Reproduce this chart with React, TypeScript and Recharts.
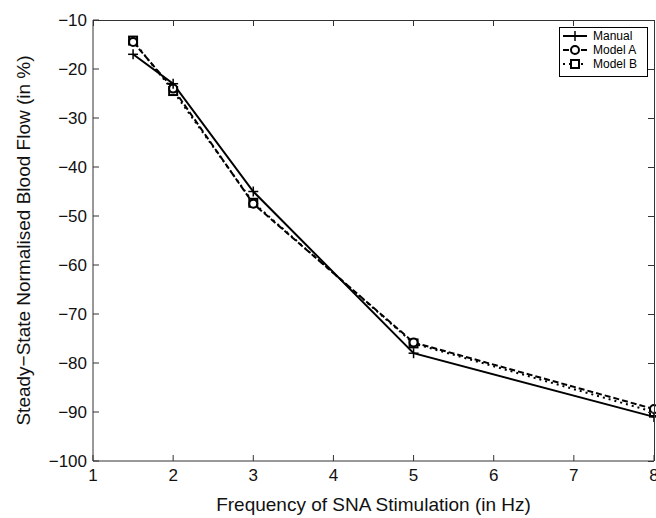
import React from 'react';
import { LineChart, Line, XAxis, YAxis } from 'recharts';

const frequencies = [1.5, 2, 3, 5, 8];
const manual = [-17, -23, -45, -78, -91];
const modelA = [-14.5, -24, -47.5, -75.8, -89.4];
const modelB = [-14.2, -24.5, -47.3, -76, -90];
const xTicks = [1, 2, 3, 4, 5, 6, 7, 8];
const yTicks = [-100, -90, -80, -70, -60, -50, -40, -30, -20, -10];

const data = frequencies.map((f, i) => ({
  f,
  manual: manual[i],
  modelA: modelA[i],
  modelB: modelB[i],
}));

const X_DOMAIN: [number, number] = [1, 8];
const Y_DOMAIN: [number, number] = [-100, -10];

// layout of the plot box
const CHART_W = 680;
const CHART_H = 518;
const Y_AXIS_W = 93;
const X_AXIS_H = 57;
const TOP = 20;
const RIGHT = 26;
const PLOT_L = Y_AXIS_W;
const PLOT_R = CHART_W - RIGHT;
const PLOT_T = TOP;
const PLOT_B = CHART_H - X_AXIS_H;
const TICK = 6;

const FONT = 'Liberation Sans, Arial, Helvetica, sans-serif';
const AXIS = '#333';
const fmt = (v: number) => (v < 0 ? '\u2212' + Math.abs(v) : String(v));

const sx = (v: number) => PLOT_L + ((v - X_DOMAIN[0]) / (X_DOMAIN[1] - X_DOMAIN[0])) * (PLOT_R - PLOT_L);
const sy = (v: number) => PLOT_B - ((v - Y_DOMAIN[0]) / (Y_DOMAIN[1] - Y_DOMAIN[0])) * (PLOT_B - PLOT_T);

const PlusDot = (p: any) => {
  const { cx, cy } = p;
  if (cx == null || cy == null) return <g />;
  return (
    <g stroke="#000" strokeWidth={1.5}>
      <line x1={cx - 5} y1={cy} x2={cx + 5} y2={cy} />
      <line x1={cx} y1={cy - 5} x2={cx} y2={cy + 5} />
    </g>
  );
};

const CircleDot = (p: any) => {
  const { cx, cy } = p;
  if (cx == null || cy == null) return <g />;
  return <circle cx={cx} cy={cy} r={4} fill="#fff" stroke="#000" strokeWidth={2} />;
};

const SquareDot = (p: any) => {
  const { cx, cy } = p;
  if (cx == null || cy == null) return <g />;
  return <rect x={cx - 4} y={cy - 4} width={8} height={8} fill="#fff" stroke="#000" strokeWidth={2} />;
};

const legendItems = [
  { name: 'Manual', dash: undefined, marker: 'plus' },
  { name: 'Model A', dash: '6 3', marker: 'circle' },
  { name: 'Model B', dash: '2 4', marker: 'square' },
];

const LegendBox = () => (
  <svg width={90} height={51} style={{ display: 'block' }}>
    <rect x={0.5} y={0.5} width={88} height={49} fill="#fff" stroke="#000" strokeWidth={1} />
    {legendItems.map((it, i) => {
      const y = 9 + i * 14;
      const cx = 16;
      return (
        <g key={it.name}>
          <line x1={4} y1={y} x2={28} y2={y} stroke="#000" strokeWidth={2} strokeDasharray={it.dash} />
          {it.marker === 'plus' && <PlusDot cx={cx} cy={y} />}
          {it.marker === 'circle' && <CircleDot cx={cx} cy={y} />}
          {it.marker === 'square' && <SquareDot cx={cx} cy={y} />}
          <text x={34} y={y + 4} fontSize={12} fontFamily={FONT} fill="#000">
            {it.name}
          </text>
        </g>
      );
    })}
  </svg>
);

// top and right edges of the MATLAB-style box, with inward ticks
const BoxEdges = () => (
  <svg
    width={CHART_W}
    height={CHART_H}
    style={{ position: 'absolute', left: 0, top: 0, pointerEvents: 'none' }}
  >
    <g stroke={AXIS} strokeWidth={1} shapeRendering="crispEdges">
      <line x1={PLOT_L} y1={PLOT_T} x2={PLOT_R} y2={PLOT_T} />
      <line x1={PLOT_R} y1={PLOT_T} x2={PLOT_R} y2={PLOT_B} />
      {xTicks.map((t) => (
        <line key={'x' + t} x1={sx(t)} y1={PLOT_T} x2={sx(t)} y2={PLOT_T + TICK} />
      ))}
      {yTicks.map((t) => (
        <line key={'y' + t} x1={PLOT_R} y1={sy(t)} x2={PLOT_R - TICK} y2={sy(t)} />
      ))}
    </g>
  </svg>
);

const YLabel = (props: any) => {
  const vb = props.viewBox || {};
  const x = vb.x + 30;
  const y = vb.y + vb.height / 2;
  return (
    <text
      x={x}
      y={y}
      transform={`rotate(-90, ${x}, ${y})`}
      textAnchor="middle"
      fontSize={19}
      fontFamily={FONT}
      fill="#111"
    >
      Steady−State Normalised Blood Flow (in %)
    </text>
  );
};

const XLabel = (props: any) => {
  const vb = props.viewBox || {};
  const x = vb.x + vb.width / 2;
  return (
    <text x={x} y={511} textAnchor="middle" fontSize={19} fontFamily={FONT} fill="#111">
      Frequency of SNA Stimulation (in Hz)
    </text>
  );
};

const tickStyle = { fontSize: 17, fontFamily: FONT, fill: '#111' };

export default function App() {
  return (
    <div style={{ position: 'absolute', left: 0, top: 0, width: 656, height: 518, overflow: 'hidden', background: '#fff' }}>
      <LineChart
        width={CHART_W}
        height={CHART_H}
        data={data}
        margin={{ top: TOP, right: RIGHT, bottom: 0, left: 0 }}
      >
        <XAxis
          dataKey="f"
          type="number"
          domain={X_DOMAIN}
          ticks={xTicks}
          height={X_AXIS_H}
          stroke={AXIS}
          tickSize={-TICK}
          tickMargin={14}
          tick={tickStyle}
          tickFormatter={fmt}
          label={{ content: XLabel }}
        />
        <YAxis
          type="number"
          domain={Y_DOMAIN}
          ticks={yTicks}
          width={Y_AXIS_W}
          stroke={AXIS}
          tickSize={-TICK}
          tickMargin={12}
          tick={tickStyle}
          tickFormatter={fmt}
          label={{ content: YLabel }}
        />
        <Line
          type="linear"
          dataKey="modelB"
          stroke="#000"
          strokeWidth={2}
          strokeDasharray="2 4"
          dot={<SquareDot />}
          activeDot={false}
          isAnimationActive={false}
        />
        <Line
          type="linear"
          dataKey="modelA"
          stroke="#000"
          strokeWidth={2}
          strokeDasharray="6 3"
          dot={<CircleDot />}
          activeDot={false}
          isAnimationActive={false}
        />
        <Line
          type="linear"
          dataKey="manual"
          stroke="#000"
          strokeWidth={2}
          dot={<PlusDot />}
          activeDot={false}
          isAnimationActive={false}
        />
      </LineChart>
      <BoxEdges />
      <div style={{ position: 'absolute', left: 559, top: 27 }}>
        <LegendBox />
      </div>
    </div>
  );
}
